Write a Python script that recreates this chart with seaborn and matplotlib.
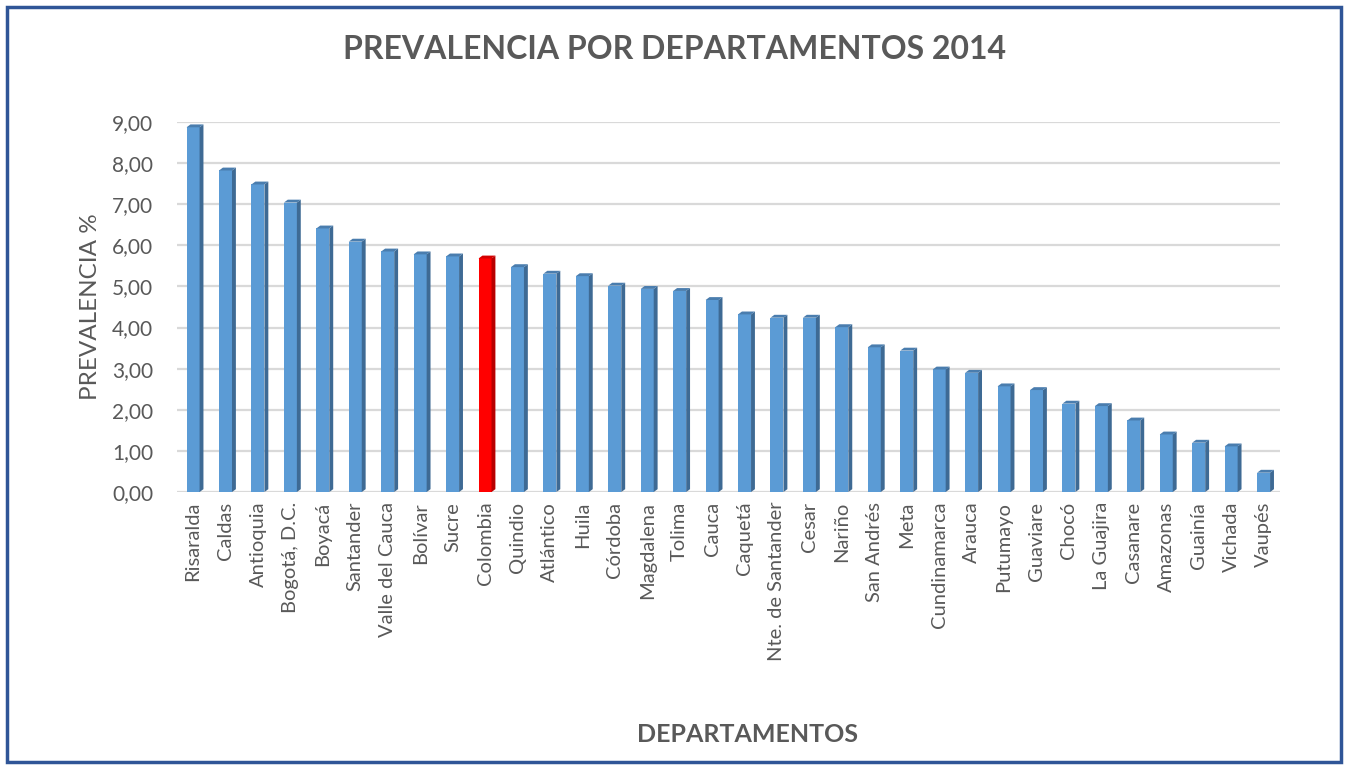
"""
Prevalencia por departamentos 2014 - bar chart with pseudo 3D bars
"""
import pandas as pd
import matplotlib.pyplot as plt
import seaborn as sns
from matplotlib.patches import Polygon, Rectangle
from matplotlib.ticker import FuncFormatter

departamentos = ['Risaralda', 'Caldas', 'Antioquia', 'Bogotá, D.C.', 'Boyacá', 'Santander',
                 'Valle del Cauca', 'Bolívar', 'Sucre', 'Colombia', 'Quindio', 'Atlántico',
                 'Huila', 'Córdoba', 'Magdalena', 'Tolima', 'Cauca', 'Caquetá',
                 'Nte. de Santander', 'Cesar', 'Nariño', 'San Andrés', 'Meta', 'Cundinamarca',
                 'Arauca', 'Putumayo', 'Guaviare', 'Chocó', 'La Guajira', 'Casanare',
                 'Amazonas', 'Guainía', 'Vichada', 'Vaupés']
prevalencia = [8.87, 7.82, 7.48, 7.04, 6.41, 6.09, 5.85, 5.78, 5.73, 5.68, 5.47, 5.31,
               5.25, 5.02, 4.94, 4.89, 4.67, 4.32, 4.24, 4.24, 4.01, 3.52, 3.44, 2.98,
               2.90, 2.57, 2.48, 2.15, 2.09, 1.74, 1.40, 1.20, 1.11, 0.47]
destacado = 'Colombia'
y_ticks = [0, 1, 2, 3, 4, 5, 6, 7, 8, 9]

TEXT = '#595959'
BLUE = ('#5B9BD5', '#3E6A94', '#4A7DAE')   # front, side, top
RED = ('#FF0000', '#B80000', '#D40000')

df = pd.DataFrame({'Departamento': departamentos, 'Prevalencia': prevalencia})

sns.set_style('white')
plt.rcParams['font.family'] = ['Lato', 'DejaVu Sans']

fig = plt.figure(figsize=(13.5, 7.67), dpi=100)
ax = fig.add_axes([0.131, 0.3585, 0.817, 0.4825])

palette = {d: (RED[0] if d == destacado else BLUE[0]) for d in departamentos}
sns.barplot(data=df, x='Departamento', y='Prevalencia', hue='Departamento',
            palette=palette, saturation=1, width=0.40, legend=False, ax=ax,
            zorder=3, linewidth=0)

# fake 3D: side and top faces derived from each bar
dx, dy = 0.12, 0.07
for patch, d in zip(ax.patches, departamentos):
    x0 = patch.get_x()
    w = patch.get_width()
    h = patch.get_height()
    cols = RED if d == destacado else BLUE
    side = Polygon([(x0 + w, 0), (x0 + w + dx, dy), (x0 + w + dx, h + dy), (x0 + w, h)],
                   closed=True, facecolor=cols[1], edgecolor='none', zorder=3)
    top = Polygon([(x0, h), (x0 + dx, h + dy), (x0 + w + dx, h + dy), (x0 + w, h)],
                  closed=True, facecolor=cols[2], edgecolor='none', zorder=3)
    ax.add_patch(side)
    ax.add_patch(top)

ax.set_xlim(-0.5, len(departamentos) - 0.5)
ax.set_ylim(0, 9.0)
ax.set_yticks(y_ticks)
ax.yaxis.set_major_formatter(FuncFormatter(lambda v, p: f'{v:.2f}'.replace('.', ',')))
ax.yaxis.grid(True, color='#D9D9D9', linewidth=1.6, zorder=0)
ax.set_axisbelow(True)
for s in ax.spines.values():
    s.set_visible(False)

ax.tick_params(axis='y', labelsize=15, labelcolor=TEXT, length=0, pad=17)
ax.tick_params(axis='x', labelsize=14.5, labelcolor=TEXT, length=0, pad=7, rotation=90)

ax.set_ylabel('PREVALENCIA %', fontsize=17.5, color=TEXT, labelpad=8)
ax.set_xlabel('')

fig.text(0.5, 0.935, 'PREVALENCIA POR DEPARTAMENTOS 2014', ha='center', va='center',
         fontsize=23, fontweight='bold', color=TEXT)
fig.text(0.554, 0.042, 'DEPARTAMENTOS', ha='center', va='center',
         fontsize=18, fontweight='bold', color=TEXT)

fig.patches.append(Rectangle((0.005, 0.007), 0.988, 0.984, transform=fig.transFigure,
                             fill=False, edgecolor='#2F5597', linewidth=2.5))

plt.savefig('out.png', dpi=100)
plt.close()
